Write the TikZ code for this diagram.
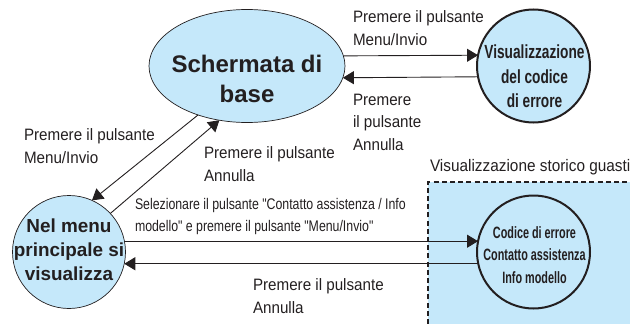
\documentclass[tikz,border=0pt]{standalone}
\usepackage{fontspec}
\usetikzlibrary{shapes.geometric,arrows.meta}
\setmainfont{Liberation Sans}
\newfontfamily\lblfont[FakeStretch=0.92]{Liberation Sans}
\newfontfamily\narrowfont[FakeStretch=0.8]{Liberation Sans}
\newfontfamily\cirfont[FakeStretch=0.72]{Liberation Sans}
\newfontfamily\smallcirfont[FakeStretch=0.66]{Liberation Sans}
\definecolor{fillblue}{HTML}{C5E8FA}
\definecolor{inkk}{HTML}{231F20}
\tikzset{
  every node/.style={text=inkk,inner sep=0pt,outer sep=0pt},
  conn/.style={draw=inkk,line width=0.9pt,-{Triangle[length=11pt,width=13pt]}},
  lbl/.style={align=left,anchor=north west,font=\lblfont\fontsize{16.5}{22.6}\selectfont},
  sellbl/.style={align=left,anchor=north west,font=\narrowfont\fontsize{15.4}{22.2}\selectfont},
  basebox/.style={ellipse,draw=inkk,line width=0.7pt,fill=fillblue,minimum width=196pt,minimum height=113pt},
  thincirc/.style={circle,draw=inkk,line width=0.7pt,fill=fillblue,minimum size=113pt},
  thickcirc/.style={circle,draw=inkk,line width=2pt,fill=fillblue,minimum size=113pt},
  basetxt/.style={align=center,font=\bfseries\fontsize{24}{29.5}\selectfont},
  menutxt/.style={align=center,font=\bfseries\fontsize{18.9}{24.2}\selectfont},
  vistxt/.style={align=center,font=\cirfont\bfseries\fontsize{19}{24.5}\selectfont},
  histtxt/.style={align=center,font=\smallcirfont\bfseries\fontsize{16.4}{22.5}\selectfont},
}
\begin{document}
\begin{tikzpicture}[x=1pt,y=-1pt]
\useasboundingbox (0,0) rectangle (630,324);
\fill[fillblue] (428,182) rectangle (630,324);
\draw[draw=inkk,line width=1.1pt,dash pattern=on 5pt off 3.2pt] (428,324) -- (428,182) -- (630,182);
\node[basebox,label={[basetxt,yshift=-13pt]center:Schermata di\\base}] (base) at (247,66) {};
\node[thickcirc,label={[vistxt,yshift=-10.5pt,xshift=1pt]center:Visualizzazione\\del codice\\di errore}] (vis) at (533.5,66) {};
\node[thincirc,label={[menutxt,yshift=2pt]center:Nel menu\\principale si\\visualizza}] (menu) at (69,252) {};
\node[thickcirc,label={[histtxt,yshift=-3pt,xshift=1pt]center:Codice di errore\\Contatto assistenza\\Info modello}] (hist) at (533.5,252) {};
\draw[conn] (base.6.5) -- (vis.169);
\draw[conn] (vis.191) -- (base.353.5);
\draw[conn] (base.225) -- (menu.66);
\draw[conn] (menu.43.6) -- (base.243);
\draw[conn] (menu.11) -- (hist.169);
\draw[conn] (hist.192) -- (menu.348);
\node[lbl] (t1) at (353,11) {Premere il pulsante\\Menu/Invio};
\node[lbl] (t2) at (353,94) {Premere\\il pulsante\\Annulla};
\node[lbl] (t3) at (24,129) {Premere il pulsante\\Menu/Invio};
\node[lbl] (t4) at (204,147) {Premere il pulsante\\Annulla};
\node[sellbl] (t5) at (135,198) {Selezionare il pulsante "Contatto assistenza / Info\\modello" e premere il pulsante "Menu/Invio"};
\node[lbl] (t6) at (253,279) {Premere il pulsante\\Annulla};
\node[lbl,font=\lblfont\fontsize{16.7}{18}\selectfont] (t7) at (430,159) {Visualizzazione storico guasti};
\end{tikzpicture}
\end{document}
